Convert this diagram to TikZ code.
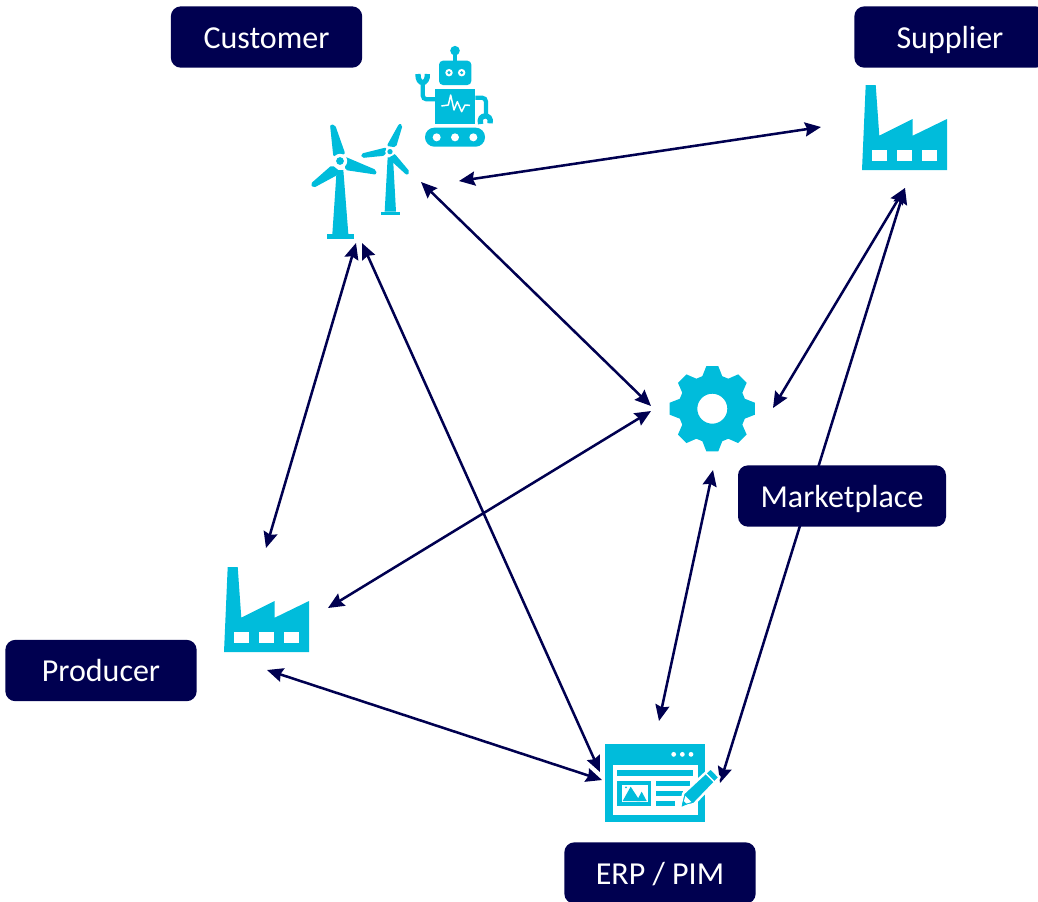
\documentclass[tikz,border=0pt]{standalone}
\usepackage{fontspec}
\setmainfont{Carlito}
\usetikzlibrary{arrows.meta}
\definecolor{navy}{HTML}{000050}
\definecolor{iconcyan}{HTML}{00BCDB}
\tikzset{
  link/.style={draw=navy,line width=1.9pt,{Stealth[length=12pt,width=10.5pt,inset=1.5pt]}-{Stealth[length=12pt,width=10.5pt,inset=1.5pt]}},
  label box/.style={fill=navy,rounded corners=7.5pt,text=white,font=\fontsize{24}{28}\selectfont,minimum height=46pt,inner sep=0pt,anchor=center,text depth=0pt,text height=17pt},
  ico/.style={fill=iconcyan,draw=none},
  zoomed/.style={x=0.25pt,y=-0.25pt},
  gap/.style={fill=white,draw=none},
  factory/.pic={
    \fill[ico] (3.7,0)--(13.7,0)--(17.3,50.7)--(50.7,34)--(50.7,50.7)--(85,34)--(85,85)--(0,85)--cycle;
    \fill[gap] (10,65) rectangle (24.7,76);
    \fill[gap] (35,65) rectangle (50,76);
    \fill[gap] (59.7,65) rectangle (74.7,76);
  }
}
\begin{document}
\begin{tikzpicture}[x=0.75pt,y=-0.75pt]
\clip (0,0) rectangle (1038,901);
\useasboundingbox (0,0) rectangle (1038,901);
% end points of the connectors
\coordinate (robotE) at (459,181);
\coordinate (supW) at (821,127);
\coordinate (turbSE) at (421,182);
\coordinate (gearW1) at (651,406);
\coordinate (turbS1) at (356,243);
\coordinate (prodN) at (266,548);
\coordinate (turbS2) at (362,243);
\coordinate (erpW1) at (600,772);
\coordinate (gearW2) at (651,411);
\coordinate (prodE) at (328,608);
\coordinate (gearE) at (773,408);
\coordinate (supS) at (905,188);
\coordinate (erpE) at (720,783);
\coordinate (gearS) at (713,470);
\coordinate (erpN) at (659,721);
\coordinate (prodS) at (267,670);
\coordinate (erpW2) at (602,780);
% connectors
\draw[link] (robotE) -- (supW);
\draw[link] (turbSE) -- (gearW1);
\draw[link] (turbS1) -- (prodN);
\draw[link] (turbS2) -- (erpW1);
\draw[link] (gearW2) -- (prodE);
\draw[link] (gearE) -- (supS);
\draw[link] (supS) -- (erpE);
\draw[link] (gearS) -- (erpN);
\draw[link] (prodS) -- (erpW2);
% labels
\node[label box,minimum width=143.5pt] (customer) at (266.5,37) {Customer};
\node[label box,minimum width=143.5pt] (supplier) at (950,37) {Supplier};
\node[label box,minimum width=156pt] (marketplace) at (842,496) {Marketplace};
\node[label box,minimum width=143.5pt] (producer) at (101,670.5) {Producer};
\node[label box,minimum width=143.5pt] (erp) at (660,873) {ERP / PIM};
% factories
\pic at (862,85) {factory};
\pic at (224,567) {factory};
% gear
\begin{scope}[shift={(712.3,408.7)},x=0.75pt,y=0.75pt]
\fill[ico,even odd rule]
  (-8:43)--(8:43)--(17:34)--(28:34)--(37:43)--(53:43)--(62:34)--(73:34)--(82:43)--(98:43)--(107:34)--(118:34)--(127:43)--(143:43)--(152:34)--(163:34)--(172:43)--(188:43)--(197:34)--(208:34)--(217:43)--(233:43)--(242:34)--(253:34)--(262:43)--(278:43)--(287:34)--(298:34)--(307:43)--(323:43)--(332:34)--(343:34)--cycle
  (0,0) circle[radius=11.25pt];
\end{scope}
% robot and wind turbines
\begin{scope}[shift={(300,30)},zoomed]
\fill[ico] (465,62) circle[radius=3.6pt];
\fill[ico] (459,65) rectangle (471,95);
\fill[ico,rounded corners=3pt] (417,92) rectangle (514,165);
\foreach \ex in {447,485}{
  \fill[gap] (\ex,128) circle[radius=2.8pt];
  \fill[ico] (\ex,128) circle[radius=1.3pt];
}
\fill[ico] (406,178) rectangle (526,282);
\draw[white,line width=1.1pt,line join=round] (424,228)--(445,225)--(452,195)--(462,240)--(472,215)--(485,245)--(495,225)--(510,226);
\draw[iconcyan,line width=3.2pt,rounded corners=3pt] (406,208)--(368,208)--(368,155);
\draw[iconcyan,line width=4pt] (354,132) .. controls (352,166) and (384,166) .. (382,132);
\draw[iconcyan,line width=3.2pt,rounded corners=3pt] (526,203)--(558,203)--(558,252);
\draw[iconcyan,line width=4pt] (542,282) .. controls (532,250) and (578,250) .. (570,280);
\fill[ico,rounded corners=7pt] (375,293) rectangle (555,350);
\foreach \wx in {410,465,520}{\fill[gap] (\wx,322) circle[radius=3pt];}
% big turbine
\fill[ico] (110,420)--(130,420)--(145,612)--(97,612)--cycle;
\fill[ico] (81,612) rectangle (161,627);
\fill[ico,rounded corners=1.5pt] (90,284)--(105,284)--(136,372)--(100,380)--cycle;
\fill[ico,rounded corners=1.5pt] (135,380)--(229,420)--(229,434)--(135,420)--cycle;
\fill[ico,rounded corners=1.5pt] (96,405)--(125,428)--(40,474)--(31,462)--cycle;
\fill[gap] (120,393) circle[radius=5.4pt];
\fill[ico] (120,393) circle[radius=2.9pt];
% small turbine
\fill[ico] (263,382)--(279,382)--(288,545)--(254,545)--cycle;
\fill[ico] (243,545) rectangle (300,555);
\fill[ico,rounded corners=1.5pt] (298,280)--(308,285)--(288,352)--(260,348)--cycle;
\fill[ico,rounded corners=1.5pt] (183,371)--(260,352)--(256,377)--(185,384)--cycle;
\fill[ico,rounded corners=1.5pt] (283,370)--(330,426)--(321,436)--(265,385)--cycle;
\fill[gap] (270,365) circle[radius=3.6pt];
\fill[ico] (270,365) circle[radius=2pt];
\end{scope}
% ERP window
\begin{scope}[shift={(590,730)},zoomed]
\fill[ico] (45,43) rectangle (345,277);
\foreach \dx in {251,277,303}{\fill[gap] (\dx,73) circle[radius=1.8pt];}
\fill[gap] (68,104) rectangle (323,255);
\fill[ico] (81,120) rectangle (310,138);
\fill[ico] (81,153) rectangle (184,229);
\fill[gap] (95,165) rectangle (173,215);
\fill[ico] (98,213)--(122,170)--(150,213)--cycle;
\fill[ico] (140,213)--(155,185)--(170,213)--cycle;
\fill[ico] (108,172) circle[radius=0.8pt];
\fill[ico] (198,153) rectangle (300,167);
\fill[ico] (198,183) rectangle (278,197);
\fill[ico] (198,213) rectangle (255,227);
\fill[ico,draw=white,line width=1.8pt,line join=round] (270,232)--(280,190)--(362,114)--(389,142)--(312,222)--cycle;
\draw[white,line width=1pt] (346,129)--(374,157);
\fill[gap] (279,224)--(286,198)--(304,216)--cycle;
\fill[ico] (275,230)--(280,212)--(291,223)--cycle;
\end{scope}
\end{tikzpicture}
\end{document}
